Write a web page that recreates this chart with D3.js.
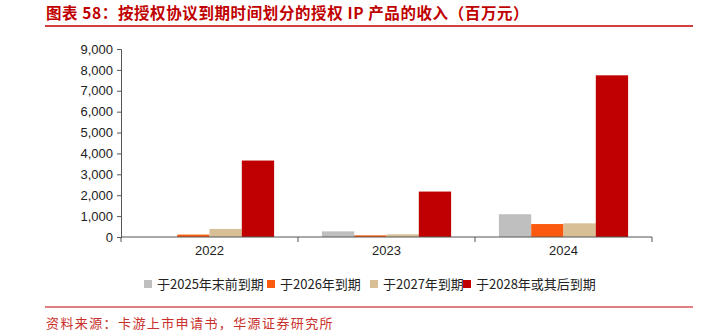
<!DOCTYPE html>
<html><head><meta charset="utf-8">
<script src="https://cdn.jsdelivr.net/npm/d3@7"></script>
<style>body{margin:0;background:#fff}svg{display:block}</style>
</head><body>
<svg id="c" width="703" height="336"></svg>
<script>
const categories = ["2022", "2023", "2024"];
const seriesNames = ["于2025年末前到期", "于2026年到期", "于2027年到期", "于2028年或其后到期"];
const expire2025 = [0, 270, 1090];
const expire2026 = [115, 80, 620];
const expire2027 = [385, 130, 655];
const expire2028 = [3660, 2175, 7740];
const yTicks = [0, 1000, 2000, 3000, 4000, 5000, 6000, 7000, 8000, 9000];
const colors = ["#bfbfbf", "#fb5a0e", "#d9bf96", "#c00000"];
const titleText = "图表 58：按授权协议到期时间划分的授权 IP 产品的收入（百万元）";
const sourceText = "资料来源：卡游上市申请书，华源证券研究所";

const series = [expire2025, expire2026, expire2027, expire2028];
const svg = d3.select("#c");
const red = "#c00000";
const cjk = "'Noto Sans CJK SC', sans-serif";
const latin = "'Liberation Sans', Arial, sans-serif";

// title
svg.append("text").attr("x", 46).attr("y", 19).attr("fill", red)
  .attr("font-family", cjk).attr("font-size", 15.5).attr("font-weight", "bold")
  .attr("letter-spacing", 0.6).text(titleText);
svg.append("line").attr("x1", 45).attr("x2", 693).attr("y1", 26).attr("y2", 26)
  .attr("stroke", red).attr("stroke-width", 1.5);

const x0 = d3.scaleBand().domain(categories).range([121, 652]).paddingInner(0.27).paddingOuter(0.135);
const x1 = d3.scaleBand().domain(d3.range(series.length)).range([0, x0.bandwidth()]);
const y = d3.scaleLinear().domain([0, 9000]).range([237, 49]);

const g = svg.append("g");
categories.forEach((c, i) => {
  series.forEach((s, k) => {
    g.append("rect").attr("x", x0(c) + x1(k)).attr("width", x1.bandwidth())
      .attr("y", y(s[i])).attr("height", y(0) - y(s[i])).attr("fill", colors[k]);
  });
});

// y axis
const yAxis = svg.append("g").attr("transform", "translate(121,0)")
  .call(d3.axisLeft(y).tickValues(yTicks).tickFormat(d3.format(",")).tickSizeOuter(0).tickSize(4).tickPadding(4));
yAxis.select(".domain").attr("stroke", "#555");
yAxis.selectAll(".tick line").attr("stroke", "#555");
yAxis.selectAll("text").attr("font-family", latin).attr("font-size", 13).attr("fill", "#222");

// x axis
const xAxis = svg.append("g").attr("transform", "translate(0,237)")
  .call(d3.axisBottom(x0).tickSize(0).tickPadding(9).tickSizeOuter(0));
xAxis.select(".domain").attr("stroke", "#555").attr("d", "M121,0H652");
xAxis.selectAll("text").attr("font-family", latin).attr("font-size", 13).attr("fill", "#222");
const step = x0.step();
const bounds = categories.map((c, i) => x0(c) + x0.bandwidth() / 2 + step / 2);
xAxis.selectAll(".bnd").data(bounds).enter().append("line")
  .attr("x1", d => d).attr("x2", d => d).attr("y1", 0).attr("y2", 5).attr("stroke", "#555");
xAxis.append("line").attr("x1", 121).attr("x2", 121).attr("y1", 0).attr("y2", 5).attr("stroke", "#555");

// legend
const legendX = [144, 267, 370, 463];
const lg = svg.append("g");
seriesNames.forEach((n, k) => {
  lg.append("rect").attr("x", legendX[k]).attr("y", 280).attr("width", 8).attr("height", 8).attr("fill", colors[k]);
  lg.append("text").attr("x", legendX[k] + 13).attr("y", 289).attr("font-family", cjk)
    .attr("font-size", 13).attr("fill", "#222").text(n);
});

// footer
svg.append("line").attr("x1", 45).attr("x2", 693).attr("y1", 307).attr("y2", 307)
  .attr("stroke", red).attr("stroke-width", 1.2);
svg.append("text").attr("x", 46).attr("y", 328).attr("fill", "#c9302c")
  .attr("font-family", cjk).attr("font-size", 13).attr("letter-spacing", 1.4).text(sourceText);
</script>
</body></html>
